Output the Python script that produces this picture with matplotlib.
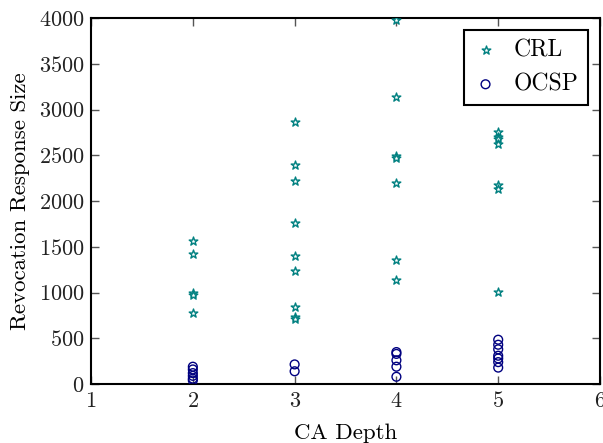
import matplotlib
matplotlib.use("Agg")
import matplotlib.pyplot as plt

# CA depth -> revocation response sizes (bytes)
crl_depth = [2, 2, 2, 2, 2,
             3, 3, 3, 3, 3, 3, 3, 3, 3,
             4, 4, 4, 4, 4, 4, 4,
             5, 5, 5, 5, 5, 5, 5]
crl_size = [1560, 1420, 1000, 970, 780,
            2870, 2400, 2215, 1760, 1400, 1235, 840, 730, 710,
            3985, 3140, 2490, 2470, 2195, 1360, 1135,
            2760, 2700, 2680, 2625, 2180, 2130, 1010]

ocsp_depth = [2, 2, 2, 2, 2, 2,
              3, 3,
              4, 4, 4, 4, 4,
              5, 5, 5, 5, 5, 5, 5]
ocsp_size = [190, 160, 120, 90, 60, 40,
             215, 140,
             350, 330, 260, 190, 80,
             485, 430, 380, 310, 280, 240, 180]

plt.rcParams["font.family"] = "cmr10"
plt.rcParams["mathtext.fontset"] = "cm"
plt.rcParams["axes.formatter.use_mathtext"] = True
plt.rcParams["xtick.direction"] = "in"
plt.rcParams["ytick.direction"] = "in"
plt.rcParams["xtick.top"] = True
plt.rcParams["ytick.right"] = True

fig = plt.figure(figsize=(6.03, 4.43), dpi=100)
ax = fig.add_axes([0.151, 0.133, 0.844, 0.826])

ax.scatter(crl_depth, crl_size, marker="*", s=42, facecolors="white",
           edgecolors="teal", linewidths=1.0, label="CRL", zorder=3)
ax.scatter(ocsp_depth, ocsp_size, marker="o", s=40, facecolors="none",
           edgecolors="navy", linewidths=1.0, label="OCSP", zorder=3)

ax.set_xlim(1, 6)
ax.set_ylim(0, 4000)
ax.set_xticks([1, 2, 3, 4, 5, 6])
ax.set_yticks(range(0, 4001, 500))
ax.tick_params(labelsize=16, length=6, width=1, pad=5,
               colors="#555555", labelcolor="#222222")
for sp in ax.spines.values():
    sp.set_linewidth(1.5)

ax.set_xlabel("CA Depth", fontsize=16.5, labelpad=9)
ax.set_ylabel("Revocation Response Size", fontsize=16.5, labelpad=6)

leg = ax.legend(loc="upper right", scatterpoints=1, fontsize=17, fancybox=False,
                framealpha=1, edgecolor="black", borderaxespad=0.5,
                handlelength=1.0, handletextpad=0.7, borderpad=0.4)
leg.get_frame().set_linewidth(1.5)

fig.savefig("out.png", dpi=100)
